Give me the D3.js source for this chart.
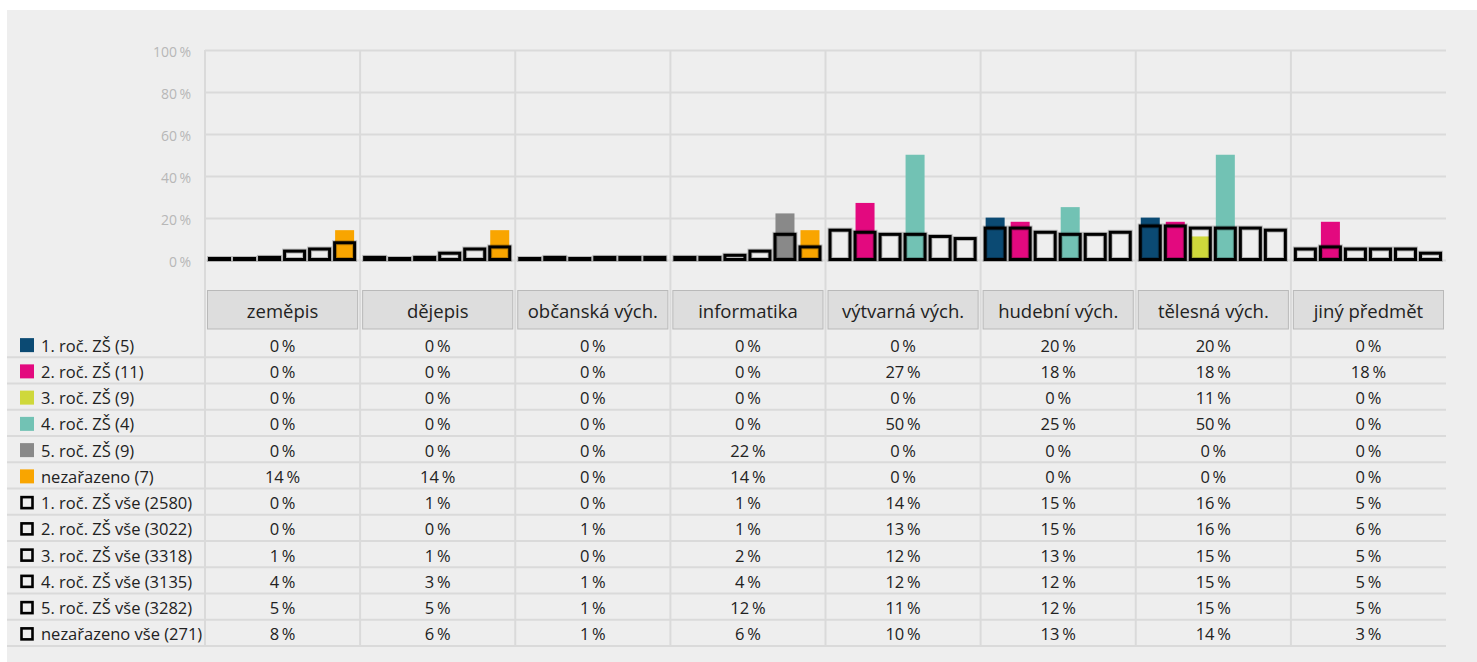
<!DOCTYPE html>
<html>
<head>
<meta charset="utf-8">
<script src="https://cdn.jsdelivr.net/npm/d3@7"></script>
<style>
  html, body { margin: 0; padding: 0; background: #ffffff; }
  svg { display: block; }
  text { font-family: "Open Sans", "Noto Sans", sans-serif; }
</style>
</head>
<body>
<svg id="chart" width="1477" height="662"></svg>
<script>
const categories = ["zeměpis", "dějepis", "občanská vých.", "informatika", "výtvarná vých.", "hudební vých.", "tělesná vých.", "jiný předmět"];

const filledNames = ["1. roč. ZŠ (5)", "2. roč. ZŠ (11)", "3. roč. ZŠ (9)", "4. roč. ZŠ (4)", "5. roč. ZŠ (9)", "nezařazeno (7)"];
const filledColors = ["#0b4a73", "#e3097f", "#cfd83b", "#72c2b4", "#898989", "#f9a500"];
const filled1 = [0, 0, 0, 0, 0, 20, 20, 0];
const filled2 = [0, 0, 0, 0, 27, 18, 18, 18];
const filled3 = [0, 0, 0, 0, 0, 0, 11, 0];
const filled4 = [0, 0, 0, 0, 50, 25, 50, 0];
const filled5 = [0, 0, 0, 22, 0, 0, 0, 0];
const filled6 = [14, 14, 0, 14, 0, 0, 0, 0];

const outlineNames = ["1. roč. ZŠ vše (2580)", "2. roč. ZŠ vše (3022)", "3. roč. ZŠ vše (3318)", "4. roč. ZŠ vše (3135)", "5. roč. ZŠ vše (3282)", "nezařazeno vše (271)"];
const outline1 = [0, 1, 0, 1, 14, 15, 16, 5];
const outline2 = [0, 0, 1, 1, 13, 15, 16, 6];
const outline3 = [1, 1, 0, 2, 12, 13, 15, 5];
const outline4 = [4, 3, 1, 4, 12, 12, 15, 5];
const outline5 = [5, 5, 1, 12, 11, 12, 15, 5];
const outline6 = [8, 6, 1, 6, 10, 13, 14, 3];

const yTicks = [0, 20, 40, 60, 80, 100];

const filledSeries = [filled1, filled2, filled3, filled4, filled5, filled6];
const outlineSeries = [outline1, outline2, outline3, outline4, outline5, outline6];

const svg = d3.select("#chart");
const W = 1477, H = 662;

// panel
svg.append("rect").attr("x", 7).attr("y", 10).attr("width", W - 7).attr("height", H - 10).attr("fill", "#eeeeee");

const plotLeft = 205, plotRight = 1446;
const x = d3.scaleBand().domain(categories).range([plotLeft, plotRight]).padding(0);
const colW = x.bandwidth();
const slot = d3.scaleBand().domain(d3.range(6)).range([2, colW - 3]).padding(0);
const y = d3.scaleLinear().domain([0, 100]).range([259.5, 50]);

const gridColor = "#dadada";

// horizontal gridlines
svg.append("g").selectAll("line").data(yTicks).join("line")
  .attr("x1", plotLeft).attr("x2", plotRight)
  .attr("y1", d => Math.round(y(d)) + 0.5).attr("y2", d => Math.round(y(d)) + 0.5)
  .attr("stroke", gridColor).attr("stroke-width", 2);

// rows geometry
const rowTop = 331, rowH = 26.25;
const allNames = filledNames.concat(outlineNames);
const allSeries = filledSeries.concat(outlineSeries);
const tableBottom = rowTop + rowH * allNames.length;

// vertical lines
svg.append("g").selectAll("line").data(categories).join("line")
  .attr("x1", d => x(d)).attr("x2", d => x(d))
  .attr("y1", 50).attr("y2", tableBottom)
  .attr("stroke", gridColor).attr("stroke-width", 2);

// y tick labels
svg.append("g").selectAll("text").data(yTicks).join("text")
  .attr("x", 191).attr("y", d => y(d) + 1.5)
  .attr("text-anchor", "end").attr("dominant-baseline", "central")
  .attr("font-size", 14).attr("fill", "#b7b7b7")
  .text(d => d + "\u2009%");

// filled bars
const barsG = svg.append("g");
filledSeries.forEach((vals, si) => {
  barsG.append("g").selectAll("rect").data(vals).join("rect")
    .attr("x", (d, ci) => x(categories[ci]) + slot(si) + slot.bandwidth() / 2 - 9.5)
    .attr("width", 19)
    .attr("y", d => Math.min(y(d), y(0) - 1.5))
    .attr("height", d => Math.max(1.5, y(0) - y(d)))
    .attr("fill", filledColors[si]);
});

// outline bars
outlineSeries.forEach((vals, si) => {
  const g = barsG.append("g");
  const bx = (d, ci) => x(categories[ci]) + slot(si) + slot.bandwidth() / 2 - 10;
  const by = d => Math.min(y(d), y(0) - 1);
  const bh = d => Math.max(1, y(0) - y(d));
  g.selectAll("rect.halo").data(vals).join("rect").attr("class", "halo")
    .attr("x", bx).attr("width", 20).attr("y", by).attr("height", bh)
    .attr("fill", "none").attr("stroke", "#000").attr("stroke-opacity", 0.22).attr("stroke-width", 5);
  g.selectAll("rect.ol").data(vals).join("rect").attr("class", "ol")
    .attr("x", bx).attr("width", 20).attr("y", by).attr("height", bh)
    .attr("fill", "none").attr("stroke", "#000").attr("stroke-width", 3);
});

// header boxes
const hdr = svg.append("g");
hdr.selectAll("rect").data(categories).join("rect")
  .attr("x", d => x(d) + 2.5).attr("y", 290.5)
  .attr("width", colW - 5).attr("height", 38.5)
  .attr("fill", "#dddddd").attr("stroke", "#b9b9b9").attr("stroke-width", 1);
hdr.selectAll("text").data(categories).join("text")
  .attr("x", d => x(d) + colW / 2).attr("y", 310.5)
  .attr("text-anchor", "middle").attr("dominant-baseline", "central")
  .attr("font-size", 18.5).attr("fill", "#222")
  .text(d => d);

// table rows
const tbl = svg.append("g");
allNames.forEach((name, ri) => {
  const top = rowTop + ri * rowH;
  const cy = top + rowH / 2 + 1;
  tbl.append("line")
    .attr("x1", 7).attr("x2", plotRight)
    .attr("y1", top + rowH).attr("y2", top + rowH)
    .attr("stroke", gridColor).attr("stroke-width", 2);
  if (ri < filledNames.length) {
    tbl.append("rect").attr("x", 20).attr("y", cy - 7).attr("width", 14).attr("height", 14)
      .attr("fill", filledColors[ri]);
  } else {
    tbl.append("rect").attr("x", 21.5).attr("y", cy - 5.5).attr("width", 11).attr("height", 11)
      .attr("fill", "none").attr("stroke", "#000").attr("stroke-width", 2.6);
  }
  tbl.append("text").attr("x", 41).attr("y", cy)
    .attr("dominant-baseline", "central").attr("font-size", 16.5).attr("fill", "#222")
    .text(name);
  tbl.append("g").selectAll("text").data(allSeries[ri]).join("text")
    .attr("x", (d, ci) => x(categories[ci]) + colW / 2)
    .attr("y", cy)
    .attr("text-anchor", "middle").attr("dominant-baseline", "central")
    .attr("font-size", 16.5).attr("fill", "#222")
    .text(d => d + "\u2009%");
});
</script>
</body>
</html>
